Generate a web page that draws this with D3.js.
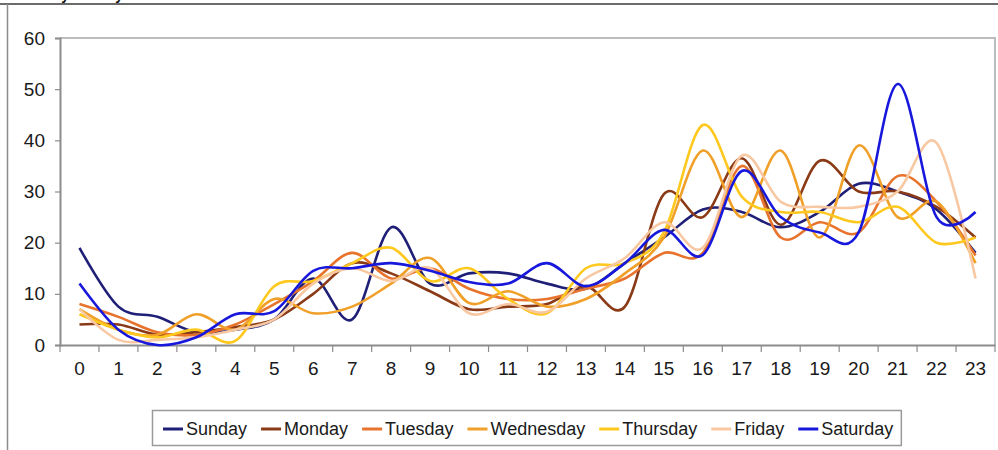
<!DOCTYPE html>
<html>
<head>
<meta charset="utf-8">
<script src="https://cdn.jsdelivr.net/npm/d3@7"></script>
<style>
  body { margin: 0; background: #fff; }
  svg { display: block; font-family: "Liberation Sans", Arial, sans-serif; }
</style>
</head>
<body>
<div id="chart-area"></div>
<script>

// Data (hour of day, 0-23)
var hours = d3.range(0, 24);
var days = ["Sunday", "Monday", "Tuesday", "Wednesday", "Thursday", "Friday", "Saturday"];
var yTicks = [0, 10, 20, 30, 40, 50, 60];

var sunday    = [19, 7.5, 5.5, 2.5, 3, 5, 13, 5, 23, 12, 14, 14, 12, 11, 16, 21, 26.5, 26, 23, 26, 31.5, 30, 26.5, 18];
var monday    = [4, 4, 2, 2.5, 3.5, 5, 10, 16, 14, 10.5, 7, 7.5, 8, 11.5, 7.5, 29.5, 25, 36.5, 23.5, 36, 30, 30, 27, 21];
var tuesday   = [8, 5.5, 2.5, 2, 4, 8, 12.5, 18, 13, 15, 11, 9, 9, 11, 13, 18, 18, 35, 21, 24, 22, 33, 28, 17.5];
var wednesday = [7, 3, 2, 6, 3, 9, 6.2, 7.5, 12, 17, 8.2, 10.5, 7.5, 9, 14, 21, 38, 25, 38, 21, 39, 25, 28, 16];
var thursday  = [6, 3, 1.5, 3, 0.8, 11.5, 12.5, 16, 19, 12.5, 15, 9, 6.2, 15, 16, 22, 43, 29, 26, 26, 24, 27, 20, 21];
var friday    = [7, 1, 1, 1.5, 3, 5, 12, 15, 12.5, 15, 6.2, 8, 6.5, 13, 17, 24, 19, 37, 28, 27, 27, 30, 39.5, 13];
var saturday  = [12, 3, 0, 1.5, 6, 6.6, 14.5, 15, 16, 14.5, 12.3, 12, 16, 11.5, 16, 22.5, 17.6, 34, 25, 22, 22, 51, 25, 26];

var seriesValues = [sunday, monday, tuesday, wednesday, thursday, friday, saturday];
var colors = ["#1f1f78", "#8a3a16", "#e8732c", "#f0a028", "#ffc81e", "#f8c8a2", "#1818dc"];

// SVG drawing area
var W = 998, H = 450;
var margin = {top: 38, right: 3, bottom: 105, left: 60};
var width = W - margin.left - margin.right,
    height = H - margin.top - margin.bottom;

var root = d3.select("#chart-area").append("svg")
    .attr("width", W)
    .attr("height", H);

// outer frame + cut-off title
root.append("line")
    .attr("x1", 0).attr("x2", W).attr("y1", 4).attr("y2", 4)
    .attr("stroke", "#3a3a3a").attr("stroke-width", 1.6);
root.append("line")
    .attr("x1", 7.5).attr("x2", 7.5).attr("y1", 4).attr("y2", H)
    .attr("stroke", "#8c8c8c").attr("stroke-width", 1.5);
root.append("text")
    .attr("x", 21).attr("y", 0)
    .attr("font-size", 14).attr("font-weight", "bold")
    .attr("fill", "#111")
    .text("Weekly Activity");

var svg = root.append("g")
    .attr("transform", "translate(" + margin.left + "," + margin.top + ")");

// Scales
var x = d3.scaleBand()
    .domain(hours)
    .range([0, width]);

var y = d3.scaleLinear()
    .domain([0, 60])
    .range([height, 0]);

// plot frame (top + right)
svg.append("path")
    .attr("d", "M0,0H" + width + "V" + height)
    .attr("fill", "none")
    .attr("stroke", "#bdbdbd")
    .attr("stroke-width", 2);

// Axes
var yAxis = d3.axisLeft(y)
    .tickValues(yTicks)
    .tickSize(5)
    .tickPadding(10);

var xAxis = d3.axisBottom(x)
    .tickSize(0)
    .tickPadding(17);

var yAxisGroup = svg.append("g")
    .attr("class", "y-axis axis")
    .call(yAxis);

var xAxisGroup = svg.append("g")
    .attr("class", "x-axis axis")
    .attr("transform", "translate(0," + height + ")")
    .call(xAxis);

// x ticks sit between the categories
xAxisGroup.selectAll(".boundary")
    .data(d3.range(0, 25))
  .enter().append("line")
    .attr("class", "boundary")
    .attr("x1", function(d) { return d * x.step(); })
    .attr("x2", function(d) { return d * x.step(); })
    .attr("y1", 0).attr("y2", 7)
    .attr("stroke", "#8c8c8c")
    .attr("stroke-width", 1.2);

svg.selectAll(".axis path.domain")
    .attr("stroke", "#8c8c8c")
    .attr("stroke-width", 2);
yAxisGroup.selectAll(".tick line")
    .attr("stroke", "#8c8c8c")
    .attr("stroke-width", 1.2);
svg.selectAll(".axis text")
    .attr("font-size", 19)
    .attr("fill", "#1a1a1a")
    .attr("font-family", "Liberation Sans, Arial, sans-serif");

// Lines
var line = d3.line()
    .x(function(d, i) { return x(hours[i]) + x.bandwidth() / 2; })
    .y(function(d) { return y(d); })
    .curve(d3.curveCardinal.tension(0));

svg.selectAll(".day-line")
    .data(seriesValues)
  .enter().append("path")
    .attr("class", "day-line")
    .attr("fill", "none")
    .attr("stroke", function(d, i) { return colors[i]; })
    .attr("stroke-width", 2.6)
    .attr("stroke-linejoin", "round")
    .attr("d", line);

// Legend
var legend = root.append("g").attr("class", "legend");

var legendBox = legend.append("rect")
    .attr("x", 152.5).attr("y", 410.5)
    .attr("height", 35)
    .attr("fill", "#fff")
    .attr("stroke", "#9a9a9a")
    .attr("stroke-width", 1.5);

var lx = 163;
days.forEach(function(name, i) {
  legend.append("line")
      .attr("x1", lx).attr("x2", lx + 20)
      .attr("y1", 429).attr("y2", 429)
      .attr("stroke", colors[i])
      .attr("stroke-width", 3);
  var t = legend.append("text")
      .attr("x", lx + 23)
      .attr("y", 435)
      .attr("font-size", 18)
      .attr("fill", "#1a1a1a")
      .text(name);
  lx += 23 + t.node().getComputedTextLength() + 14;
});
legendBox.attr("width", lx - 14 + 8 - 152.5);

</script>
</body>
</html>
